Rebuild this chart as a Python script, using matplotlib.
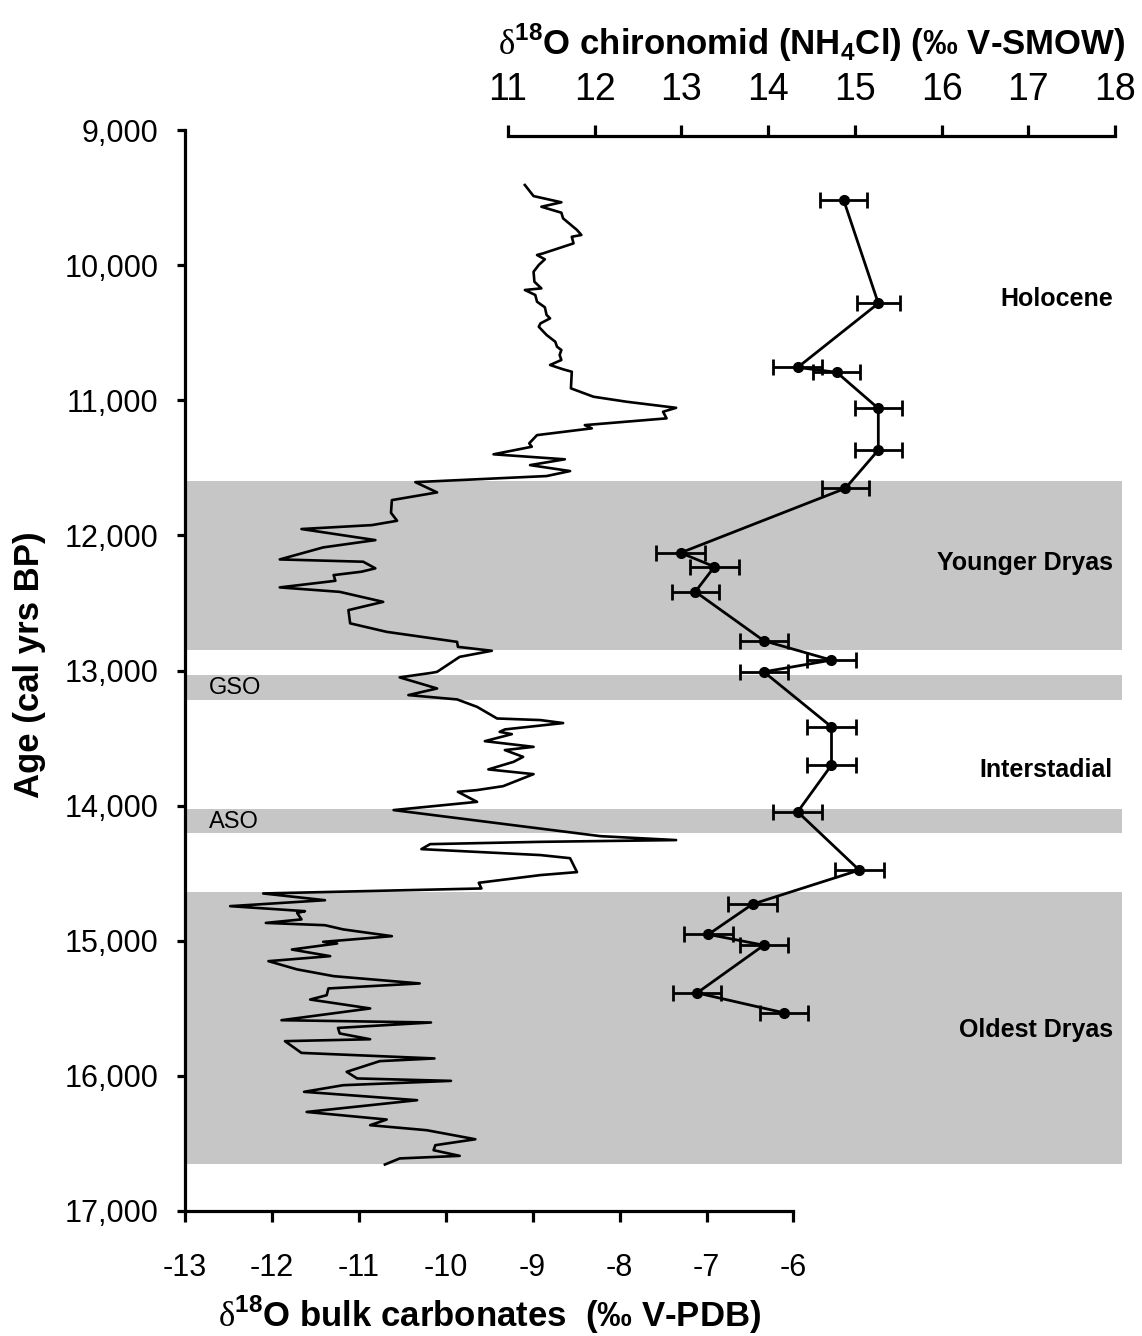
import matplotlib
matplotlib.use('Agg')
import matplotlib.pyplot as plt
from matplotlib.ticker import StrMethodFormatter
import matplotlib.transforms as mtransforms

plt.rcParams['font.family'] = ['Liberation Sans', 'DejaVu Sans']
plt.rcParams['mathtext.fontset'] = 'custom'
plt.rcParams['mathtext.rm'] = 'Liberation Serif'
plt.rcParams['mathtext.bf'] = 'Liberation Sans:bold'
plt.rcParams['mathtext.sf'] = 'Liberation Sans'

# bulk carbonate record (age in cal yrs BP, d18O in permil V-PDB)
bulk_age = [9407, 9489, 9535, 9568, 9612, 9654, 9740, 9777, 9790, 9839,
            9913, 9925, 9957, 9999, 10049, 10123, 10172, 10184, 10221, 10271,
            10312, 10369, 10394, 10431, 10456, 10517, 10567, 10604, 10628, 10665,
            10702, 10739, 10771, 10789, 10912, 10974, 11011, 11056, 11085, 11134,
            11184, 11208, 11258, 11319, 11344, 11400, 11437, 11480, 11524, 11561,
            11606, 11682, 11739, 11833, 11892, 11924, 11953, 12035, 12089, 12178,
            12195, 12244, 12269, 12294, 12336, 12344, 12385, 12418, 12492, 12553,
            12651, 12714, 12788, 12825, 12854, 12899, 13010, 13017, 13051, 13133,
            13182, 13214, 13269, 13355, 13367, 13389, 13436, 13454, 13471, 13523,
            13565, 13589, 13639, 13676, 13732, 13767, 13856, 13885, 13898, 13972,
            14033, 14226, 14255, 14268, 14285, 14322, 14366, 14389, 14492, 14514,
            14571, 14613, 14650, 14700, 14744, 14781, 14794, 14842, 14868, 14885,
            14916, 14966, 15008, 15020, 15065, 15114, 15151, 15212, 15262, 15316,
            15353, 15403, 15435, 15501, 15588, 15605, 15645, 15686, 15729, 15743,
            15830, 15871, 15891, 15970, 16019, 16037, 16069, 16118, 16180, 16267,
            16323, 16365, 16402, 16469, 16513, 16550, 16592, 16611, 16656]
bulk_d18o = [-9.09, -8.99, -8.67, -8.90, -8.67, -8.65, -8.49, -8.44, -8.55, -8.53,
             -8.88, -8.95, -8.86, -8.93, -8.99, -8.98, -8.90, -9.09, -8.97, -8.95,
             -8.86, -8.84, -8.80, -8.91, -8.93, -8.84, -8.74, -8.72, -8.67, -8.69,
             -8.67, -8.80, -8.65, -8.55, -8.56, -8.30, -7.92, -7.35, -7.50, -7.46,
             -8.40, -8.32, -8.95, -9.04, -9.01, -9.45, -8.63, -9.03, -8.57, -8.84,
             -10.35, -10.10, -10.62, -10.63, -10.56, -10.85, -11.66, -10.81, -11.41, -11.91,
             -10.95, -10.81, -10.97, -11.29, -11.27, -11.37, -11.91, -11.22, -10.72, -11.12,
             -11.10, -10.68, -9.87, -9.86, -9.47, -9.84, -10.10, -10.16, -10.53, -10.10,
             -10.43, -9.87, -9.64, -9.41, -8.91, -8.65, -9.32, -9.38, -9.24, -9.55,
             -8.99, -9.32, -9.11, -9.22, -9.51, -8.99, -9.34, -9.64, -9.86, -9.64,
             -10.60, -8.22, -7.35, -8.91, -10.18, -10.28, -8.91, -8.57, -8.49, -8.91,
             -9.62, -9.59, -12.10, -11.39, -12.48, -11.62, -11.71, -11.66, -12.07, -11.39,
             -11.18, -10.62, -11.41, -11.25, -11.77, -11.33, -12.04, -11.71, -11.29, -10.30,
             -11.35, -11.37, -11.56, -10.87, -11.89, -10.17, -11.24, -11.22, -10.87, -11.85,
             -11.66, -10.13, -10.76, -11.14, -11.02, -9.94, -11.18, -11.63, -10.33, -11.60,
             -10.68, -10.87, -10.22, -9.66, -10.12, -10.14, -9.84, -10.53, -10.70]

# chironomid head capsules (NH4Cl treated), d18O permil V-SMOW
chiro_age = [9518, 10283, 10757, 10793, 11060, 11369, 11652, 12129, 12232, 12417, 12780,
             12923, 13010, 13417, 13700, 14046, 14477, 14729, 14953, 15033, 15386, 15533]
chiro_d18o = [14.87, 15.27, 14.34, 14.79, 15.27, 15.27, 14.89, 12.99, 13.38, 13.16, 13.95,
              14.73, 13.95, 14.73, 14.73, 14.34, 15.05, 13.82, 13.31, 13.95, 13.18, 14.18]
chiro_err = [0.27, 0.25, 0.28, 0.27, 0.27, 0.27, 0.27, 0.28, 0.28, 0.27, 0.28,
             0.28, 0.28, 0.28, 0.28, 0.28, 0.28, 0.28, 0.28, 0.28, 0.28, 0.28]

# cold phases
band_top = [11600, 13030, 14025, 14640]
band_bottom = [12845, 13220, 14205, 16655]

period_names = ['Holocene', 'Younger Dryas', 'Interstadial', 'Oldest Dryas']
period_ages = [10250, 12205, 13737, 15662]
event_names = ['GSO', 'ASO']
event_ages = [13130, 14122]

age_ticks = [9000, 10000, 11000, 12000, 13000, 14000, 15000, 16000, 17000]
bulk_ticks = [-13, -12, -11, -10, -9, -8, -7, -6]
chiro_ticks = [11, 12, 13, 14, 15, 16, 17, 18]

fig = plt.figure(figsize=(11.42, 13.36), dpi=100)
ax = fig.add_axes([185 / 1142, 125 / 1336, 937 / 1142, 1081 / 1336])

for top, bot in zip(band_top, band_bottom):
    ax.axhspan(top, bot, color='#c6c6c6', lw=0, zorder=0)

ax.plot(bulk_d18o, bulk_age, color='black', lw=1.9, zorder=3)

ax.set_ylim(17000, 9000)
ax.set_xlim(-13, -2.22)
ax.set_yticks(age_ticks)
ax.yaxis.set_major_formatter(StrMethodFormatter('{x:,.0f}'))
ax.set_xticks(bulk_ticks)
ax.set_xticklabels([str(t) for t in bulk_ticks])

for side in ['top', 'right']:
    ax.spines[side].set_visible(False)
ax.spines['left'].set_linewidth(2.3)
ax.spines['bottom'].set_linewidth(2.3)
ax.spines['bottom'].set_bounds(-13, -6)

ax.tick_params(axis='y', direction='out', length=6, width=2.3, labelsize=22, pad=13)
ax.tick_params(axis='x', direction='out', length=8, width=2.3, labelsize=22, pad=22)

ax.set_xlabel(r'$\mathrm{\delta}^{\mathbf{18}}$O bulk carbonates  (‰ V-PDB)',
              fontsize=25, fontweight='bold', va='baseline')
ax.xaxis.set_label_coords(0.3255, -0.1073)
ax.set_ylabel('Age (cal yrs BP)', fontsize=25, fontweight='bold')
ax.yaxis.set_label_coords(-0.148, 0.505)

# chironomid axis on top, same scale but shifted
ax2 = ax.twiny()
ax2.set_xlim(7.275, 18.08)
ax2.set_xticks(chiro_ticks)
ax2.set_xticklabels([str(t) for t in chiro_ticks])
for side in ['bottom', 'left', 'right']:
    ax2.spines[side].set_visible(False)
ax2.spines['top'].set_linewidth(2.3)
ax2.spines['top'].set_bounds(11, 18)
ax2.spines['top'].set_position(('outward', -4))
ax2.tick_params(axis='x', direction='out', length=8, width=2.3, labelsize=27, pad=12)

ax2.errorbar(chiro_d18o, chiro_age, xerr=chiro_err, fmt='-o', color='black',
             lw=2, ms=7, elinewidth=2, capsize=6, capthick=2, zorder=4)

fig.text(812 / 1142, 1 - 55 / 1336,
         r'$\mathrm{\delta}^{\mathbf{18}}$O chironomid (NH$_{\mathbf{4}}$Cl) (‰ V-SMOW)',
         fontsize=25, fontweight='bold', ha='center', va='baseline')

right_edge = mtransforms.blended_transform_factory(ax.transAxes, ax.transData)
for name, age in zip(period_names, period_ages):
    ax.text(0.99, age, name, transform=right_edge, ha='right', va='center',
            fontsize=18, fontweight='bold', zorder=5)
for name, age in zip(event_names, event_ages):
    ax.text(0.0256, age, name, transform=right_edge, ha='left', va='center',
            fontsize=17, zorder=5)

fig.savefig('out.png', dpi=100)
